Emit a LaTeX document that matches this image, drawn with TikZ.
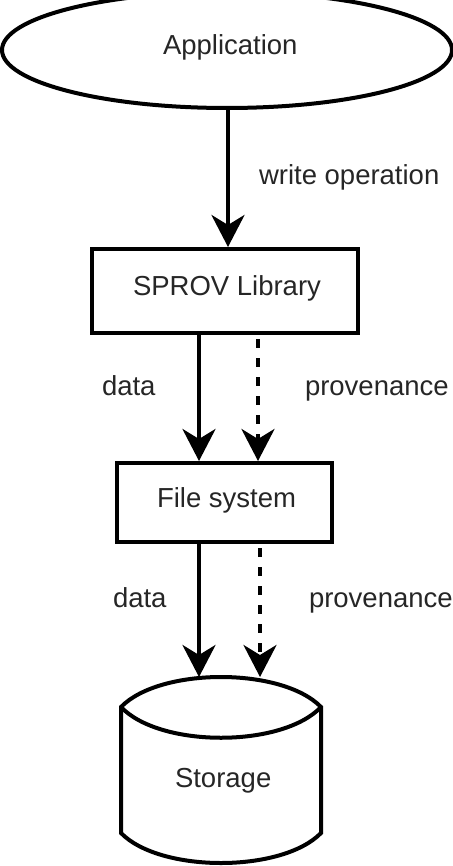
\documentclass[tikz,border=0pt]{standalone}
\usepackage{fontspec}
\setmainfont{Liberation Sans}
\usetikzlibrary{arrows.meta,shapes.geometric}
\begin{document}
\begin{tikzpicture}[x=1pt, y=-1pt, line width=4pt,
		font=\fontsize{27.5}{32}\selectfont, text=black!85,
		>={Stealth[length=32pt,width=33pt,inset=10pt]},
		block/.style={draw, rectangle, inner sep=0pt},
		prov/.style={->, dash pattern=on 9pt off 10pt, dash phase=-4pt},
		lbl/.style={inner sep=0pt, anchor=base west}]
	\useasboundingbox (0,0) rectangle (452,866);
	\node[draw, ellipse, minimum width=450pt, minimum height=116pt, inner sep=0pt] (app) at (227,50) {};
	\node[lbl] at (161,55) {Application};
	\node[block, minimum width=266pt, minimum height=84pt] (lib) at (225,291) {};
	\node[lbl] at (131,295) {SPROV Library};
	\node[block, minimum width=215pt, minimum height=79pt] (fs) at (224.5,502.5) {};
	\node[lbl] at (155,507) {File system};
	% storage drum
	\draw (121,707) .. controls (160,667) and (282,667) .. (321,707) -- (321,833)
		.. controls (282,873) and (160,873) .. (121,833) -- cycle;
	\draw (121,707) .. controls (160,748) and (282,748) .. (321,707);
	\node[lbl] (storage) at (173,787) {Storage};
	\coordinate (stdata) at (199,677);
	\coordinate (stprov) at (260,677);
	\draw[->] (app.south -| 228,0) -- (lib.north -| 228,0);
	\draw[->] (lib.south -| 199,0) -- (fs.north -| 199,0);
	\draw[prov] (lib.south -| 258,0) -- (fs.north -| 258,0);
	\draw[->] (fs.south -| 199,0) -- (stdata);
	\draw[prov] (fs.south -| 260,0) -- (stprov);
	\node[lbl] at (257,185) {write operation};
	\node[lbl] at (100,395) {data};
	\node[lbl] at (303,395) {provenance};
	\node[lbl] at (111,607) {data};
	\node[lbl] at (307,607) {provenance};
\end{tikzpicture}
\end{document}
